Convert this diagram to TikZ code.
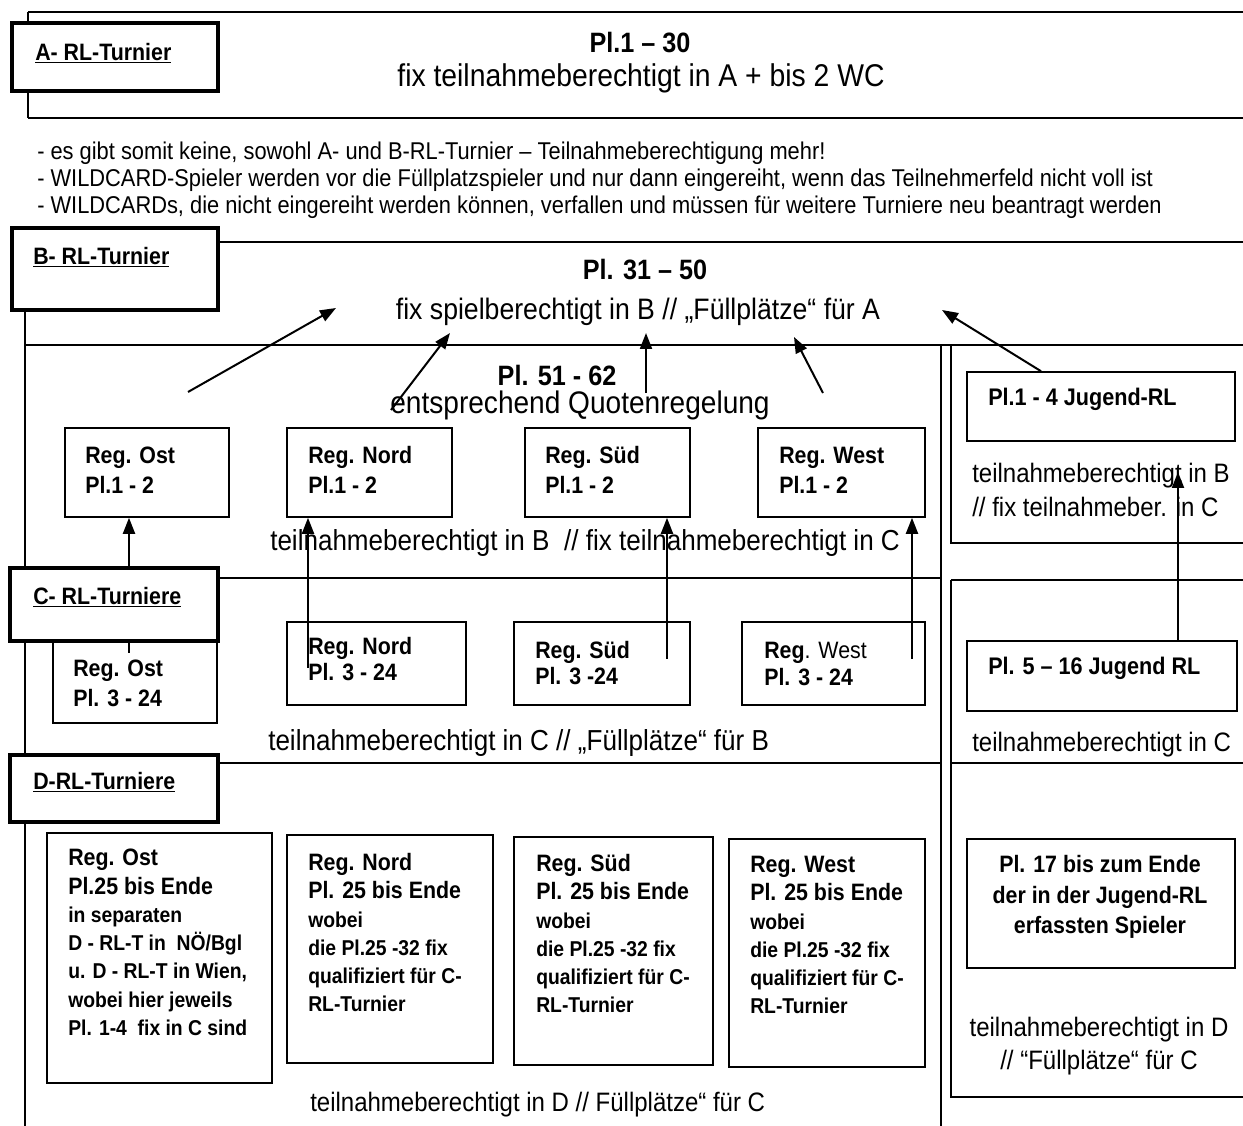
\documentclass[tikz,border=0pt]{standalone}
\usepackage{fontspec}
\setmainfont{Liberation Sans}[FakeStretch=0.9]
\usetikzlibrary{arrows.meta,fit}
\newcommand\myfs[2]{\fontsize{#1}{#2}\selectfont}
\begin{document}
\begin{tikzpicture}[x=0.75pt,y=-0.75pt,
  ln/.style={line width=1.3pt},
  lbl/.style={draw, line width=2.8pt, fill=white, inner sep=0pt},
  bx/.style={draw, line width=1.2pt, inner sep=0pt},
  arr/.style={line width=1.5pt, -{Triangle[length=12pt,width=9pt]}},
  tx/.style={inner sep=0pt, align=left, anchor=west},
  txnw/.style={inner sep=0pt, align=left, anchor=north west},
  lbltext/.style={tx, font=\bfseries\myfs{17.8}{21}},
  titletxt/.style={inner sep=0pt, font=\bfseries\myfs{21}{24}},
  subtxt/.style={inner sep=0pt, font=\myfs{22.2}{26}},
  bodytxt/.style={tx, font=\myfs{18.2}{21}},
  captxt/.style={tx, font=\myfs{21.7}{25}},
  regtwo/.style={tx, font=\bfseries\myfs{17.8}{22.5}},
  regtwoc/.style={tx, font=\bfseries\myfs{17.8}{20}},
  jugtxt/.style={tx, font=\bfseries\myfs{18}{21}},
]
\useasboundingbox (0,0) rectangle (1243,1126);

% ---------- frame lines ----------
\draw[ln] (28,12) -- (1243,12);
\draw[ln] (28,12) -- (28,118);
\draw[ln] (28,118) -- (1243,118);
\draw[ln] (218,242) -- (1243,242);
\draw[ln] (25,310) -- (25,568);
\draw[ln] (25,345) -- (1243,345);
\draw[ln] (941,345) -- (941,1126);
\draw[ln] (951,345) -- (951,543) -- (1243,543);
\draw[ln] (951,580) -- (1243,580);
\draw[ln] (951,580) -- (951,1097) -- (1243,1097);
\draw[ln] (951,763) -- (1243,763);
\draw[ln] (218,578) -- (941,578);
\draw[ln] (25,641) -- (25,755);
\draw[ln] (218,763) -- (941,763);
\draw[ln] (25,822) -- (25,1126);

% ---------- boxes ----------
\node[bx, fit={(65,428)(229,517)}] (ostB) {};
\node[bx, fit={(287,428)(452,517)}] (nordB) {};
\node[bx, fit={(525,428)(690,517)}] (suedB) {};
\node[bx, fit={(758,428)(925,517)}] (westB) {};
\node[bx, fit={(967,372)(1235,441)}] (jugB) {};

\node[bx, fit={(53,630)(217,723)}] (ostC) {};
\node[bx, fit={(287,622)(466,705)}] (nordC) {};
\node[bx, fit={(514,622)(690,705)}] (suedC) {};
\node[bx, fit={(742,622)(925,705)}] (westC) {};
\node[bx, fit={(967,641)(1237,711)}] (jugC) {};

\node[bx, fit={(47,833)(272,1083)}] (ostD) {};
\node[bx, fit={(287,835)(493,1063)}] (nordD) {};
\node[bx, fit={(514,837)(713,1065)}] (suedD) {};
\node[bx, fit={(729,839)(925,1067)}] (westD) {};
\node[bx, fit={(967,839)(1235,968)}] (jugD) {};

% ---------- arrows ----------
\coordinate (a1s) at (188,392); \coordinate (a1e) at (336,308);
\coordinate (a2s) at (391,410); \coordinate (a2e) at (450,333);
\coordinate (a3s) at (646,393); \coordinate (a3e) at (646,333);
\coordinate (a4s) at (823,393); \coordinate (a4e) at (794,337);
\coordinate (a5x) at (1041,0);  \coordinate (a5e) at (942,310);
\draw[arr] (a1s) -- (a1e);
\draw[arr] (a2s) -- (a2e);
\draw[arr] (a3s) -- (a3e);
\draw[arr] (a4s) -- (a4e);
\draw[arr] (a5x |- jugB.north) -- (a5e);

\coordinate (cOst) at (129,653);
\coordinate (cNord) at (308,668);
\coordinate (cSued) at (667,659);
\coordinate (cWest) at (912,659);
\coordinate (cJug) at (1178,0);
\coordinate (cJugE) at (1178,472);
\draw[arr] (cOst) -- (cOst |- ostB.south);
\draw[arr] (cNord) -- (cNord |- nordB.south);
\draw[arr] (cSued) -- (cSued |- suedB.south);
\draw[arr] (cWest) -- (cWest |- westB.south);
\draw[arr] (cJug |- jugC.north) -- (cJugE);

% ---------- label boxes ----------
\node[lbl, fit={(12,23)(218,91)}] (labA) {};
\node[lbl, fit={(12,228)(218,310)}] (labB) {};
\node[lbl, fit={(10,568)(218,641)}] (labC) {};
\node[lbl, fit={(10,755)(218,822)}] (labD) {};
\node[lbltext] (labAt) at (35,53) {\underline{A- RL-Turnier}};
\node[lbltext] (labBt) at (33,257) {\underline{B- RL-Turnier}};
\node[lbltext] (labCt) at (33,597) {\underline{C- RL-Turniere}};
\node[lbltext] (labDt) at (33,782) {\underline{D-RL-Turniere}};

% ---------- A ----------
\node[titletxt] (tA1) at (640,43) {Pl.1 – 30};
\node[subtxt, font=\myfs{23.6}{27}] (tA2) at (641,78) {fix teilnahmeberechtigt in A + bis 2 WC};

\node[bodytxt] (n1) at (37,153) {- es gibt somit keine, sowohl A- und B-RL-Turnier – Teilnahmeberechtigung mehr!};
\node[bodytxt] (n2) at (37,180) {- WILDCARD-Spieler werden vor die Füllplatzspieler und nur dann eingereiht, wenn das Teilnehmerfeld nicht voll ist};
\node[bodytxt] (n3) at (37,207) {- WILDCARDs, die nicht eingereiht werden können, verfallen und müssen für weitere Turniere neu beantragt werden};

% ---------- B ----------
\node[titletxt] (tB1) at (645,270) {Pl. 31 – 50};
\node[subtxt] (tB2) at (638,312) {fix spielberechtigt in B // „Füllplätze“ für A};
\node[titletxt] (t51) at (557,375) {Pl. 51 - 62};
\node[subtxt, font=\myfs{23.4}{27}] (t51b) at (580,405) {entsprechend Quotenregelung};

\node[regtwo] (ostBt) at (85,470) {Reg. Ost\\Pl.1 - 2};
\node[regtwo] (nordBt) at (308,470) {Reg. Nord\\Pl.1 - 2};
\node[regtwo] (suedBt) at (545,470) {Reg. Süd\\Pl.1 - 2};
\node[regtwo] (westBt) at (779,470) {Reg. West\\Pl.1 - 2};
\node[captxt] (capB) at (270,543) {teilnahmeberechtigt in B \ // fix teilnahmeberechtigt in C};

\node[jugtxt] (jugBt) at (988,399) {Pl.1 - 4 Jugend-RL};
\node[tx, font=\myfs{20}{26}] (jugBc) at (972,490) {teilnahmeberechtigt in B\\// fix teilnahmeber. in C};

% ---------- C ----------
\node[regtwo] (ostCt) at (73,683) {Reg. Ost\\Pl. 3 - 24};
\node[regtwoc] (nordCt) at (308,659) {Reg. Nord\\Pl. 3 - 24};
\node[regtwoc] (suedCt) at (535,663) {Reg. Süd\\Pl. 3 -24};
\node[regtwoc] (westCt) at (764,664) {\textbf{Reg}\textmd{. West}\\Pl. 3 - 24};
\node[captxt] (capC) at (268,743) {teilnahmeberechtigt in C // „Füllplätze“ für B};
\node[jugtxt] (jugCt) at (988,668) {Pl. 5 – 16 Jugend RL};
\node[tx, font=\myfs{20}{22}] (jugCc) at (972,745) {teilnahmeberechtigt in C};

% ---------- D ----------
\node[txnw, font=\bfseries\myfs{17.8}{21.2}] (ostDt) at (68,849)
  {Reg. Ost\\Pl.25 bis Ende\\\myfs{16.1}{21.2}in separaten\\\myfs{16.1}{21.2}D - RL-T in \ NÖ/Bgl\\\myfs{16.1}{21.2}u. D - RL-T in Wien,\\\myfs{16.1}{21.2}wobei hier jeweils\\\myfs{16.1}{21.2}Pl. 1-4 \ fix in C sind};
\node[txnw, font=\bfseries\myfs{17.8}{21.2}] (nordDt) at (308,853)
  {Reg. Nord\\Pl. 25 bis Ende\\\myfs{16.1}{21.2}wobei\\\myfs{16.1}{21.2}die Pl.25 -32 fix\\\myfs{16.1}{21.2}qualifiziert für C-\\\myfs{16.1}{21.2}RL-Turnier};
\node[txnw, font=\bfseries\myfs{17.8}{21.2}] (suedDt) at (536,854)
  {Reg. Süd\\Pl. 25 bis Ende\\\myfs{16.1}{21.2}wobei\\\myfs{16.1}{21.2}die Pl.25 -32 fix\\\myfs{16.1}{21.2}qualifiziert für C-\\\myfs{16.1}{21.2}RL-Turnier};
\node[txnw, font=\bfseries\myfs{17.8}{21.2}] (westDt) at (750,856)
  {Reg. West\\Pl. 25 bis Ende\\\myfs{16.1}{21.2}wobei\\\myfs{16.1}{21.2}die Pl.25 -32 fix\\\myfs{16.1}{21.2}qualifiziert für C-\\\myfs{16.1}{21.2}RL-Turnier};
\node[inner sep=0pt, align=center, font=\bfseries\myfs{17.8}{23}] (jugDt) at (1100,897)
  {Pl. 17 bis zum Ende\\der in der Jugend-RL\\erfassten Spieler};
\node[inner sep=0pt, align=center, font=\myfs{20}{25}] (jugDc) at (1099,1046)
  {teilnahmeberechtigt in D\\// “Füllplätze“ für C};
\node[captxt, font=\myfs{20}{24}] (capD) at (310,1105) {teilnahmeberechtigt in D // Füllplätze“ für C};
\end{tikzpicture}
\end{document}
